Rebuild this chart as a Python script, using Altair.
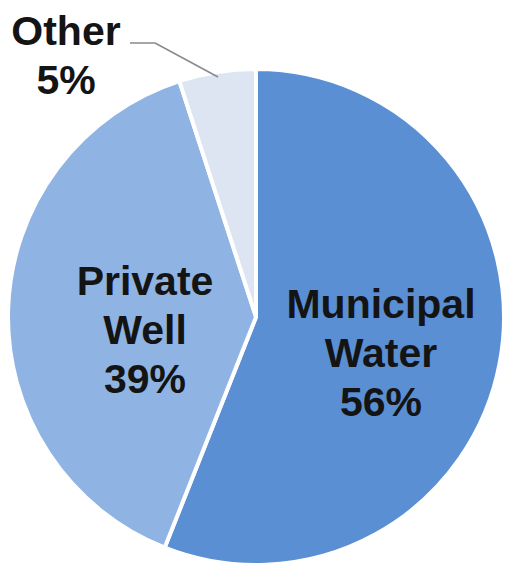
import altair as alt
import pandas as pd

categories = ["Municipal Water", "Private Well", "Other"]
values = [56, 39, 5]
colors = ["#5b8fd4", "#8fb4e3", "#dde5f3"]

df = pd.DataFrame({"category": categories, "value": values, "idx": list(range(len(categories)))})

base = alt.Chart(df)

pie = base.mark_arc(stroke="white", strokeWidth=4).encode(
    theta=alt.Theta("value:Q", stack=True),
    order=alt.Order("idx:Q"),
    color=alt.Color("category:N", scale=alt.Scale(domain=categories, range=colors), legend=None),
    x=alt.value(256),
    y=alt.value(317),
    radius=alt.value(248),
)

def label(cat, x, y):
    return base.transform_filter(alt.datum.category == cat).transform_calculate(
        lbl="datum.category + ' ' + datum.value + '%'"
    ).mark_text(
        font="Liberation Sans", fontWeight="bold", fontSize=41, color="#141414",
        align="center", baseline="alphabetic", lineBreak=" ", lineHeight=49,
    ).encode(text="lbl:N", x=alt.value(x), y=alt.value(y))

lab_m = label("Municipal Water", 381, 318)
lab_p = label("Private Well", 145, 295)
lab_o = label("Other", 66, 45)

leader1 = base.transform_filter(alt.datum.category == "Other").mark_rule(color="#8a8a8a", strokeWidth=1.5).encode(
    x=alt.value(130), x2=alt.value(155), y=alt.value(43), y2=alt.value(43))
leader2 = base.transform_filter(alt.datum.category == "Other").mark_rule(color="#8a8a8a", strokeWidth=1.5).encode(
    x=alt.value(155), x2=alt.value(218), y=alt.value(43), y2=alt.value(77))

chart = alt.layer(pie, leader1, leader2, lab_m, lab_p, lab_o).properties(
    width=506, height=565, padding=0,
    autosize=alt.AutoSizeParams(type="none"),
    background="white",
).configure_view(stroke=None)

chart.save("out.html", embed_options={"renderer": "svg", "actions": False})
